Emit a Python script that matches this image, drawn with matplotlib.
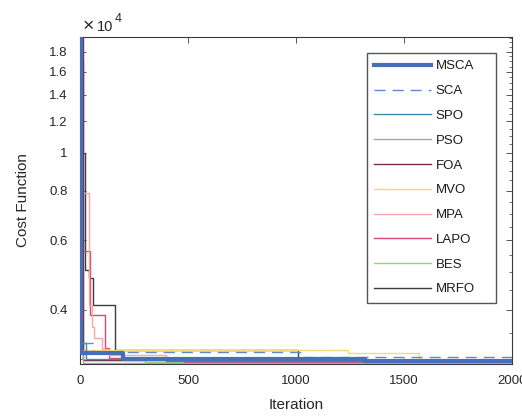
import matplotlib
matplotlib.use("Agg")
import matplotlib.pyplot as plt
from matplotlib.ticker import FixedLocator, NullFormatter

plt.rcParams['font.family'] = ['Liberation Sans', 'DejaVu Sans']

# Step-wise convergence curves: (iteration, cost) breakpoints, held until the next breakpoint
names = ["MSCA", "SCA", "SPO", "PSO", "FOA", "MVO", "MPA", "LAPO", "BES", "MRFO"]

msca_it = [1, 3, 200, 1320, 2000]
msca_v = [20500, 3115, 3015, 2980, 2980]
sca_it = [1, 4, 60, 1020, 2000]
sca_v = [19500, 3300, 3132, 3045, 3045]
spo_it = [1, 3, 30, 400, 2000]
spo_v = [19000, 3300, 3000, 2965, 2965]
pso_it = [1, 5, 14, 2000]
pso_v = [19000, 3170, 2945, 2945]
foa_it = [1, 14, 1400, 2000]
foa_v = [19500, 2990, 2962, 2962]
mvo_it = [1, 3, 12, 1243, 1570, 1638, 2000]
mvo_v = [16000, 5750, 3160, 3114, 2973, 2950, 2950]
mpa_it = [1, 5, 40, 56, 65, 102, 134, 400, 2000]
mpa_v = [18000, 7900, 4118, 3621, 3396, 3183, 3077, 2990, 2990]
lapo_it = [1, 12, 45, 117, 133, 480, 2000]
lapo_v = [17000, 5640, 3885, 3203, 3025, 2960, 2960]
bes_it = [1, 4, 14, 300, 2000]
bes_v = [16000, 5600, 2990, 2948, 2948]
mrfo_it = [1, 4, 25, 42, 60, 161, 1010, 2000]
mrfo_v = [19500, 10000, 5050, 4810, 4118, 3160, 2990, 2990]

iters = [msca_it, sca_it, spo_it, pso_it, foa_it, mvo_it, mpa_it, lapo_it, bes_it, mrfo_it]
vals = [msca_v, sca_v, spo_v, pso_v, foa_v, mvo_v, mpa_v, lapo_v, bes_v, mrfo_v]

colors = ["#4470B8", "#5A8AD0", "#3B8EA5", "#A6A6A6", "#7A2E4E",
          "#F3DA7C", "#F6A9A4", "#E04470", "#96D67E", "#3C3C3C"]
widths = [3.0, 1.0, 1.0, 1.0, 1.0, 1.0, 1.0, 1.0, 1.0, 1.0]
styles = ["-", (0, (8, 5)), "-", "-", "-", "-", "-", "-", "-", "-"]

yticks = [4000, 6000, 8000, 10000, 12000, 14000, 16000, 18000]
ytick_labels = ["0.4", "0.6", "0.8", "1", "1.2", "1.4", "1.6", "1.8"]
xticks = [0, 500, 1000, 1500, 2000]

fig = plt.figure(figsize=(5.22, 4.17), dpi=100)
ax = fig.add_axes([80/522, 1-364/417, 432/522, 327/417])

# draw back-to-front so MSCA is on top
order = [9, 8, 7, 6, 5, 4, 3, 2, 1, 0]
handles = {}
for i in order:
    h, = ax.plot(iters[i], vals[i], drawstyle='steps-post', color=colors[i],
                 lw=widths[i], linestyle=styles[i], label=names[i], zorder=3 + (10 - i) * 0.1)
    handles[i] = h

ax.set_yscale('log')
ax.set_xlim(0, 2000)
ax.set_ylim(2920, 19600)
ax.yaxis.set_major_locator(FixedLocator(yticks))
ax.set_yticklabels(ytick_labels)
ax.yaxis.set_minor_locator(FixedLocator([v for v in range(3000, 19600, 500) if v not in yticks]))
ax.yaxis.set_minor_formatter(NullFormatter())
ax.set_xticks(xticks)
ax.set_xticklabels([str(x) for x in xticks])

edge = "#3a3a3a"
for s in ax.spines.values():
    s.set_color(edge)
    s.set_linewidth(0.8)
ax.tick_params(which='both', direction='in', top=True, right=True, colors=edge,
               labelcolor="#262626", labelsize=9.5)
ax.tick_params(which='major', length=4, width=0.6)
ax.tick_params(which='minor', length=2.5, width=0.5)
ax.tick_params(axis='x', which='minor', top=False, bottom=False)
ax.tick_params(axis='x', pad=8)
ax.tick_params(axis='y', pad=9)

ax.set_xlabel("Iteration", fontsize=11, color="#262626", labelpad=8)
ax.set_ylabel("Cost Function", fontsize=11, color="#262626", labelpad=14)

fig.text(83/522, 1-31/417, "\u00d7", fontsize=14, color="#262626", va='baseline')
fig.text(97/522, 1-31/417, "10", fontsize=10.5, color="#262626", va='baseline')
fig.text(115/522, 1-22/417, "4", fontsize=9, color="#262626", va='baseline')

leg = ax.legend([handles[i] for i in range(10)], names,
                loc='upper left', mode='expand',
                bbox_to_anchor=(367/522, 1-301/417, 129/522, 248/417),
                bbox_transform=fig.transFigure, borderaxespad=0,
                fontsize=9.5, handlelength=4.3, handletextpad=0.35,
                labelspacing=0.95, borderpad=0.55, fancybox=False,
                framealpha=1, edgecolor="#555555")
leg.get_frame().set_linewidth(1.0)
for t in leg.get_texts():
    t.set_color("#1a1a1a")

fig.savefig("out.png", dpi=100)
